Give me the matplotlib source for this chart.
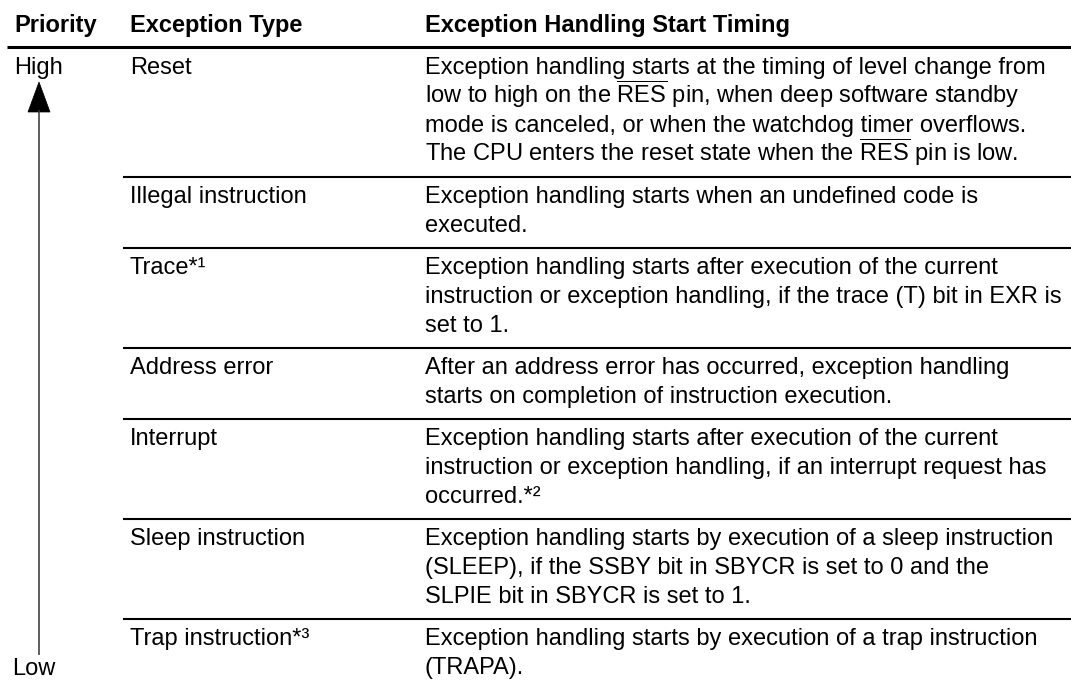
#!/usr/bin/env python3
"""Exception handling priority table (Reset ... Trap instruction)."""

import matplotlib

matplotlib.use("Agg")
import matplotlib.patches as patches
import matplotlib.pyplot as plt

plt.rcParams["font.family"] = ["Liberation Sans", "DejaVu Sans"]
plt.rcParams["mathtext.fontset"] = "custom"
plt.rcParams["mathtext.rm"] = "Liberation Sans"
plt.rcParams["mathtext.it"] = "Liberation Sans:italic"
plt.rcParams["mathtext.bf"] = "Liberation Sans:bold"

HEADERS = ["Priority", "Exception Type", "Exception Handling Start Timing"]
PRIORITY_HIGH = "High"
PRIORITY_LOW = "Low"

EXCEPTION_TYPES = [
    "Reset",
    "Illegal instruction",
    "Trace*\u00b9",
    "Address error",
    "Interrupt",
    "Sleep instruction",
    "Trap instruction*\u00b3",
]

START_TIMING = [
    [
        "Exception handling starts at the timing of level change from",
        r"low to high on the $\overline{\mathrm{RES}}$ pin, when deep software standby",
        "mode is canceled, or when the watchdog timer overflows.",
        r"The CPU enters the reset state when the $\overline{\mathrm{RES}}$ pin is low.",
    ],
    [
        "Exception handling starts when an undefined code is",
        "executed.",
    ],
    [
        "Exception handling starts after execution of the current",
        "instruction or exception handling, if the trace (T) bit in EXR is",
        "set to 1.",
    ],
    [
        "After an address error has occurred, exception handling",
        "starts on completion of instruction execution.",
    ],
    [
        "Exception handling starts after execution of the current",
        "instruction or exception handling, if an interrupt request has",
        "occurred.*\u00b2",
    ],
    [
        "Exception handling starts by execution of a sleep instruction",
        "(SLEEP), if the SSBY bit in SBYCR is set to 0 and the",
        "SLPIE bit in SBYCR is set to 1.",
    ],
    [
        "Exception handling starts by execution of a trap instruction",
        "(TRAPA).",
    ],
]

# layout (pixels, y grows downward)
W, H = 1071, 685
COL_X = [14, 130, 425]
HEADER_BASE = 32
HEADER_RULE_Y = 47
RULE_X0 = 123
LINE_H = 29
ROW_PAD = 13
FIRST_BASE = 26
FS = 17


def main() -> None:
    fig = plt.figure(figsize=(W / 100, H / 100), dpi=100)
    ax = fig.add_axes([0, 0, 1, 1])
    ax.set_xlim(0, W)
    ax.set_ylim(H, 0)
    ax.axis("off")

    for x, label in zip(COL_X, HEADERS):
        ax.text(x, HEADER_BASE, label, ha="left", va="baseline", fontsize=FS, fontweight="bold")
    ax.plot([7, W], [HEADER_RULE_Y, HEADER_RULE_Y], color="black", lw=2.2, solid_capstyle="butt")

    top = HEADER_RULE_Y + 1
    for i, (etype, lines) in enumerate(zip(EXCEPTION_TYPES, START_TIMING)):
        base = top + FIRST_BASE
        ax.text(COL_X[1], base, etype, ha="left", va="baseline", fontsize=FS)
        for j, line in enumerate(lines):
            ax.text(COL_X[2], base + j * LINE_H, line, ha="left", va="baseline", fontsize=FS)
        bottom = top + ROW_PAD + LINE_H * len(lines)
        if i < len(EXCEPTION_TYPES) - 1:
            ax.plot([RULE_X0, W], [bottom, bottom], color="black", lw=1.5, solid_capstyle="butt")
        top = bottom

    # priority arrow
    ax.text(COL_X[0], 74, PRIORITY_HIGH, ha="left", va="baseline", fontsize=FS)
    ax.text(12, 675, PRIORITY_LOW, ha="left", va="baseline", fontsize=FS)
    ax.plot([39, 39], [110, 655], color="#333333", lw=1.1, solid_capstyle="butt")
    ax.add_patch(patches.Polygon([(28, 112), (50, 112), (39, 82)], closed=True,
                                 facecolor="black", edgecolor="black", lw=0.5))

    fig.savefig("out.png", dpi=100, facecolor="white")
    plt.close(fig)


if __name__ == "__main__":
    main()
